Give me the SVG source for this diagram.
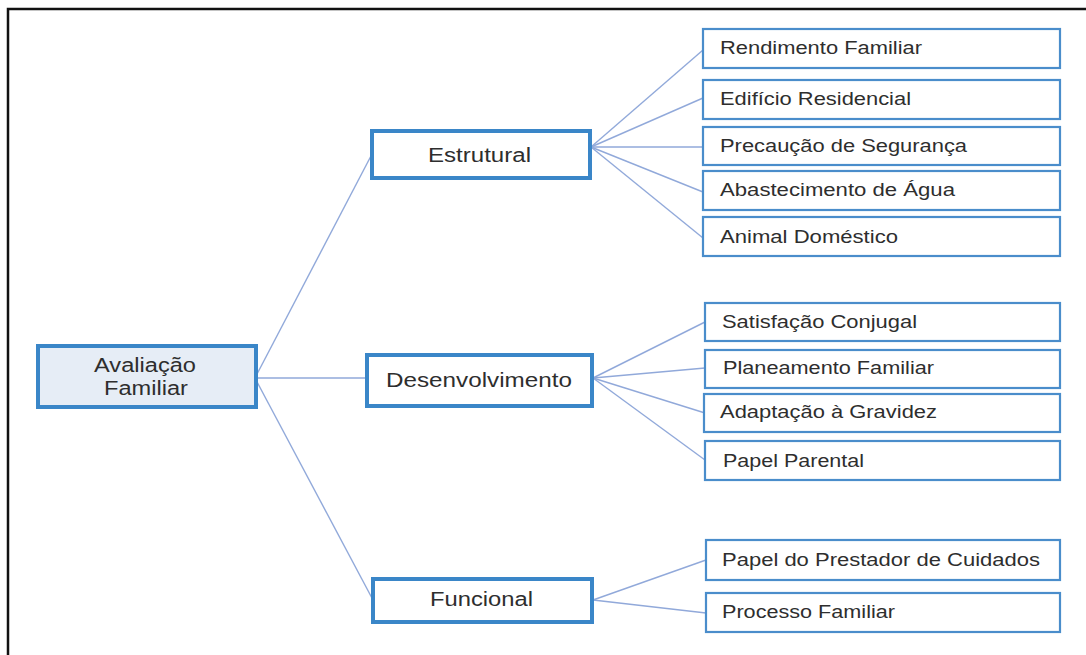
<svg xmlns="http://www.w3.org/2000/svg" width="1086" height="655" viewBox="0 0 1086 655">
  <defs>
    <style>
      .frame { fill: none; stroke: #111; stroke-width: 2.5; }
      .root { fill: #e6edf6; stroke: #3a86c8; stroke-width: 4; }
      .mid { fill: #ffffff; stroke: #3a86c8; stroke-width: 4; }
      .leaf { fill: #ffffff; stroke: #4a8dcb; stroke-width: 2.2; }
      .edge { fill: none; stroke: #91a9da; stroke-width: 1.4; }
      text { font-family: "Liberation Sans", Arial, sans-serif; fill: #2e2e2e; }
      .t-mid { font-size: 20px; }
      .t-leaf { font-size: 17.5px; }
    </style>
  </defs>

  <rect width="1086" height="655" fill="#ffffff"/>
  <rect class="frame" x="8" y="9" width="1120" height="700"/>

  <g id="connectors">
    <line class="edge" x1="256" y1="376" x2="372" y2="154"/>
    <line class="edge" x1="256" y1="378" x2="367" y2="378"/>
    <line class="edge" x1="256" y1="380" x2="373" y2="600"/>

    <line class="edge" x1="591" y1="147" x2="703" y2="50"/>
    <line class="edge" x1="591" y1="147" x2="703" y2="98"/>
    <line class="edge" x1="591" y1="147" x2="703" y2="147"/>
    <line class="edge" x1="591" y1="147" x2="703" y2="192"/>
    <line class="edge" x1="591" y1="147" x2="703" y2="238"/>

    <line class="edge" x1="593" y1="378" x2="705" y2="322"/>
    <line class="edge" x1="593" y1="378" x2="705" y2="368"/>
    <line class="edge" x1="593" y1="378" x2="705" y2="413"/>
    <line class="edge" x1="593" y1="378" x2="705" y2="460"/>

    <line class="edge" x1="593" y1="600" x2="706" y2="560"/>
    <line class="edge" x1="593" y1="600" x2="706" y2="613"/>
  </g>

  <g id="node-avaliacao">
    <rect class="root" x="38" y="346" width="218" height="61"/>
    <text class="t-mid" x="94" y="372" textLength="102" lengthAdjust="spacingAndGlyphs">Avaliação</text>
    <text class="t-mid" x="104" y="395" textLength="84" lengthAdjust="spacingAndGlyphs">Familiar</text>
  </g>

  <g id="node-estrutural">
    <rect class="mid" x="372" y="131" width="218" height="47"/>
    <text class="t-mid" x="428" y="162" textLength="103" lengthAdjust="spacingAndGlyphs">Estrutural</text>
  </g>

  <g id="node-desenvolvimento">
    <rect class="mid" x="367" y="355" width="225" height="51"/>
    <text class="t-mid" x="386" y="387" textLength="186" lengthAdjust="spacingAndGlyphs">Desenvolvimento</text>
  </g>

  <g id="node-funcional">
    <rect class="mid" x="373" y="579" width="219" height="43"/>
    <text class="t-mid" x="430" y="606" textLength="103" lengthAdjust="spacingAndGlyphs">Funcional</text>
  </g>

  <g id="node-rendimento">
    <rect class="leaf" x="703" y="29" width="357" height="39"/>
    <text class="t-leaf" x="720" y="54" textLength="202" lengthAdjust="spacingAndGlyphs">Rendimento Familiar</text>
  </g>
  <g id="node-edificio">
    <rect class="leaf" x="703" y="80" width="357" height="39"/>
    <text class="t-leaf" x="720" y="105" textLength="191" lengthAdjust="spacingAndGlyphs">Edifício Residencial</text>
  </g>
  <g id="node-precaucao">
    <rect class="leaf" x="703" y="127" width="357" height="38"/>
    <text class="t-leaf" x="720" y="152" textLength="247" lengthAdjust="spacingAndGlyphs">Precaução de Segurança</text>
  </g>
  <g id="node-abastecimento">
    <rect class="leaf" x="703" y="171" width="357" height="39"/>
    <text class="t-leaf" x="720" y="196" textLength="235" lengthAdjust="spacingAndGlyphs">Abastecimento de Água</text>
  </g>
  <g id="node-animal">
    <rect class="leaf" x="703" y="217" width="357" height="39"/>
    <text class="t-leaf" x="720" y="243" textLength="178" lengthAdjust="spacingAndGlyphs">Animal Doméstico</text>
  </g>

  <g id="node-satisfacao">
    <rect class="leaf" x="705" y="303" width="355" height="38"/>
    <text class="t-leaf" x="722" y="328" textLength="195" lengthAdjust="spacingAndGlyphs">Satisfação Conjugal</text>
  </g>
  <g id="node-planeamento">
    <rect class="leaf" x="705" y="350" width="355" height="38"/>
    <text class="t-leaf" x="723" y="374" textLength="211" lengthAdjust="spacingAndGlyphs">Planeamento Familiar</text>
  </g>
  <g id="node-adaptacao">
    <rect class="leaf" x="704" y="394" width="356" height="38"/>
    <text class="t-leaf" x="720" y="418" textLength="217" lengthAdjust="spacingAndGlyphs">Adaptação à Gravidez</text>
  </g>
  <g id="node-papel-parental">
    <rect class="leaf" x="705" y="441" width="355" height="39"/>
    <text class="t-leaf" x="723" y="467" textLength="141" lengthAdjust="spacingAndGlyphs">Papel Parental</text>
  </g>

  <g id="node-prestador">
    <rect class="leaf" x="706" y="540" width="354" height="40"/>
    <text class="t-leaf" x="722" y="566" textLength="318" lengthAdjust="spacingAndGlyphs">Papel do Prestador de Cuidados</text>
  </g>
  <g id="node-processo">
    <rect class="leaf" x="706" y="593" width="354" height="39"/>
    <text class="t-leaf" x="722" y="618" textLength="173" lengthAdjust="spacingAndGlyphs">Processo Familiar</text>
  </g>
</svg>
